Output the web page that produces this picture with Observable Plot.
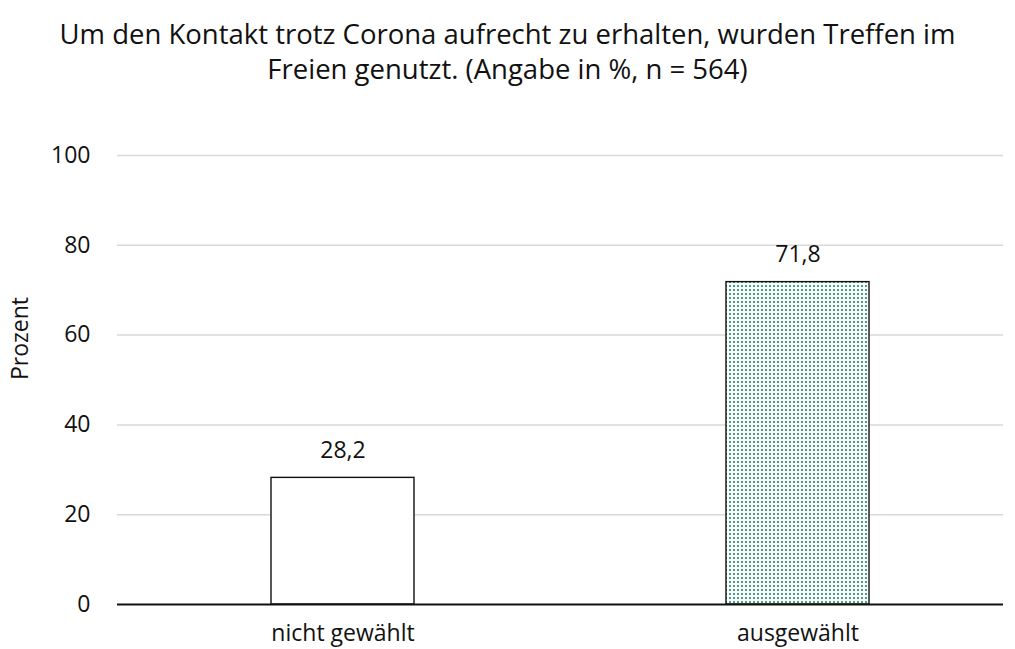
<!DOCTYPE html>
<html><head><meta charset="utf-8">
<script src="https://cdn.jsdelivr.net/npm/d3@7"></script>
<script src="https://cdn.jsdelivr.net/npm/@observablehq/plot@0.6"></script>
<style>
body{margin:0;background:#fff;font-family:"Open Sans",sans-serif;}
#title{width:1015px;height:100px;box-sizing:border-box;padding-top:16px;text-align:center;font-size:27.5px;line-height:35px;color:#111;}
#chart svg{display:block;}
</style></head><body>
<div id="title">Um den Kontakt trotz Corona aufrecht zu erhalten, wurden Treffen im<br>Freien genutzt. (Angabe in %, n = 564)</div>
<div id="chart"></div>
<script>
const categories = ["nicht gewählt", "ausgewählt"];
const values = [28.2, 71.8];
const fills = ["white", "url(#dots)"];
const yTicks = [0, 20, 40, 60, 80, 100];

const data = categories.map((c, i) => ({cat: c, value: values[i], fill: fills[i]}));
const fmt = v => v.toFixed(1).replace(".", ",");

const chart = Plot.plot({
  width: 1015,
  height: 549,
  marginLeft: 117,
  marginRight: 12,
  marginTop: 55,
  marginBottom: 45,
  style: {fontFamily: "'Open Sans', sans-serif", fontSize: "23px", color: "#111", background: "white"},
  x: {domain: categories, range: [114.75, 1025.75], paddingInner: 0.685, paddingOuter: 0.3425, label: null},
  y: {domain: [0, 100], ticks: yTicks, label: null},
  marks: [
    Plot.ruleY(yTicks.filter(t => t > 0), {stroke: "#d9d9d9", strokeWidth: 1.5}),
    Plot.barY(data, {x: "cat", y: "value", fill: "fill", stroke: "#111", strokeWidth: 1.4}),
    Plot.text(data, {x: "cat", y: "value", text: d => fmt(d.value), dy: -27, fontSize: 23, fill: "#111"}),
    Plot.ruleY([0], {stroke: "#111", strokeWidth: 2}),
    Plot.axisY({ticks: yTicks, tickSize: 0, tickPadding: 27, fontSize: 23, label: null}),
    Plot.axisX({tickSize: 0, tickPadding: 20, fontSize: 23, label: null}),
    Plot.text(["Prozent"], {frameAnchor: "left", dx: -97, rotate: -90, fontSize: 23, fill: "#111"})
  ]
});

const ns = "http://www.w3.org/2000/svg";
const defs = document.createElementNS(ns, "defs");
defs.innerHTML = `<pattern id="dots" patternUnits="userSpaceOnUse" width="4" height="4">
  <rect width="4" height="4" fill="#ffffff"/>
  <rect x="1" y="1" width="2" height="2" fill="#3fa57c"/>
</pattern>`;
chart.insertBefore(defs, chart.firstChild);
document.getElementById("chart").appendChild(chart);
</script>
</body></html>
